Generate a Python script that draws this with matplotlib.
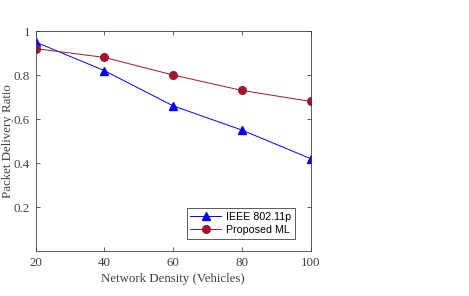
import matplotlib.pyplot as plt

density = [20, 40, 60, 80, 100]
ieee = [0.95, 0.82, 0.66, 0.55, 0.42]
proposed = [0.92, 0.88, 0.80, 0.73, 0.68]

plt.rcParams['font.family'] = ['Liberation Serif']
fig = plt.figure(figsize=(4.69, 2.96), dpi=100)
ax = fig.add_axes([35.5 / 469, 45 / 296, 275 / 469, 220 / 296])

ax.plot(density, ieee, '-^', color='#0000FF', lw=0.7, ms=6, label='IEEE 802.11p')
ax.plot(density, proposed, '-o', color='#A2142F', lw=0.7, ms=5.5, label='Proposed ML')

ax.set_xlim(20, 100)
ax.set_ylim(0, 1)
ax.set_xticks(density)
ax.set_yticks([0.2, 0.4, 0.6, 0.8, 1])
ax.set_yticklabels(['0.2', '0.4', '0.6', '0.8', '1'])
ax.tick_params(direction='in', top=True, right=True, labelsize=9.3,
               colors='#404040', length=3, width=0.6, pad=4)
for s in ax.spines.values():
    s.set_color('#404040')
    s.set_linewidth(0.6)
ax.set_xlabel('Network Density (Vehicles)', fontsize=9.3, color='#404040', labelpad=3)
ax.set_ylabel('Packet Delivery Ratio', fontsize=9.3, color='#404040')
ax.yaxis.set_label_coords(-0.078, 0.5)

leg = ax.legend(loc='lower right', bbox_to_anchor=(0.942, 0.055),
                prop={'family': 'Liberation Sans', 'size': 7.7},
                fancybox=False, framealpha=1, edgecolor='#404040',
                borderpad=0.35, handlelength=2.9, handletextpad=0.4,
                labelspacing=0.3, borderaxespad=0)
leg.get_frame().set_linewidth(0.6)

fig.savefig('out.png', dpi=100)
